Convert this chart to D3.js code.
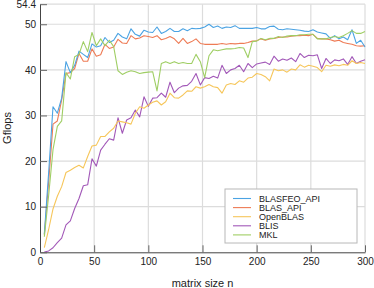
<!DOCTYPE html>
<html><head><meta charset="utf-8">
<script src="https://cdn.jsdelivr.net/npm/d3@7"></script>
<style>
html,body{margin:0;padding:0;background:#fff;}
svg{display:block;font-family:"Liberation Sans",Arial,Helvetica,sans-serif;}
</style></head>
<body><svg id="c" width="374" height="288"></svg>
<script>
const sizes = [4,8,12,16,20,24,28,32,36,40,44,48,52,56,60,64,68,72,76,80,84,88,92,96,100,
104,108,112,116,120,124,128,132,136,140,144,148,152,156,160,164,168,172,176,180,184,188,192,196,200,
204,208,212,216,220,224,228,232,236,240,244,248,252,256,260,264,268,272,276,280,284,288,292,296,300];

const blasfeoApi = [4.0,17.5,31.9,30.5,33.8,41.8,39.4,41.0,44.1,43.4,
42.7,45.7,45.0,45.3,47.1,46.0,46.5,48.0,47.2,46.8,
49.0,47.8,47.4,48.7,48.3,48.2,49.4,48.0,48.4,49.1,
48.4,48.4,49.0,48.6,49.1,49.0,49.1,49.4,50.0,49.3,
49.6,49.1,49.4,49.3,49.7,49.1,49.1,49.1,49.1,49.3,
49.0,49.0,49.5,49.6,48.9,48.8,49.0,48.9,48.8,48.7,
48.5,48.4,48.8,48.3,48.1,47.9,46.9,47.5,46.8,47.2,
46.6,48.8,45.8,46.5,45.0];

const blasApi = [3.8,15.5,28.1,28.8,33.4,39.2,39.4,40.3,43.6,41.9,
41.9,44.6,43.0,43.3,45.6,44.7,45.0,46.7,45.9,45.8,
47.5,46.8,47.0,47.5,47.3,47.1,47.5,46.6,46.9,47.3,
46.8,45.8,46.9,45.8,46.2,46.8,45.8,45.6,45.6,45.6,
45.6,45.8,45.6,45.8,45.7,45.8,45.8,46.0,46.3,46.4,
46.8,46.5,46.8,46.9,47.1,47.2,47.2,47.4,47.5,47.5,
47.6,47.5,47.8,46.9,46.8,46.8,46.6,46.3,46.5,46.0,
45.8,45.6,45.3,45.2,45.3];

const openBlas = [1.0,5.0,9.5,12.3,14.4,17.5,18.0,18.6,19.1,18.5,
21.0,23.3,23.5,25.4,25.4,26.4,27.2,28.8,28.6,28.4,
28.1,30.5,31.9,31.6,32.3,32.9,33.2,32.3,33.0,34.9,
33.9,33.8,34.5,35.4,35.3,36.3,36.0,36.3,36.8,36.3,
36.1,34.9,36.7,37.0,36.8,37.6,37.3,38.2,38.4,39.2,
39.0,38.5,37.6,40.2,39.8,40.0,39.5,40.2,40.0,41.1,
40.6,41.0,40.8,40.5,39.6,41.0,40.8,41.1,40.9,41.2,
41.0,42.0,41.4,41.6,41.4];

const blis = [0.05,0.3,1.0,2.1,3.1,6.0,6.9,9.6,11.8,14.6,
14.8,20.5,18.9,22.4,23.7,24.9,24.6,29.5,26.1,29.0,
29.5,31.2,29.7,34.1,32.0,33.8,33.9,34.9,34.0,37.3,
35.0,36.0,36.5,36.6,37.5,39.2,36.7,38.3,38.1,38.6,
38.2,41.0,39.2,40.0,40.3,41.0,39.6,41.4,40.5,41.3,
41.5,41.7,41.2,43.0,41.9,42.4,42.1,42.6,41.8,43.6,
42.7,43.2,43.1,43.3,40.3,42.5,41.4,42.2,42.0,42.4,
41.2,42.9,41.4,41.9,42.2];

const mkl = [3.4,12.5,22.5,27.6,28.8,39.4,38.0,42.9,43.4,46.2,
44.0,48.2,45.3,46.8,45.3,46.5,45.1,39.8,39.0,39.5,
39.8,39.6,39.2,39.4,39.5,39.6,35.4,41.4,41.8,41.4,
41.8,41.4,41.6,41.4,41.4,43.4,41.8,38.3,43.1,44.4,
44.2,44.4,44.6,44.6,44.7,44.9,44.8,42.7,46.2,46.3,
46.9,46.6,46.9,46.9,47.3,47.1,47.4,47.5,47.5,47.7,
47.7,47.8,47.8,46.8,46.8,46.8,47.1,47.3,47.1,47.5,
48.0,48.6,48.0,48.0,48.4];

const seriesNames = ["BLASFEO_API","BLAS_API","OpenBLAS","BLIS","MKL"];
const seriesValues = [blasfeoApi, blasApi, openBlas, blis, mkl];
const colors = ["#4ba3e3","#ee7b55","#f6c65a","#a258b8","#9fce64"];
const xTicks = [0,50,100,150,200,250,300];
const yTicks = [0,10,20,30,40,50,54.4];
const xLabel = "matrix size n";
const yLabel = "Gflops";

const svg = d3.select("#c");
const x = d3.scaleLinear().domain([0,300]).range([40,365]);
const y = d3.scaleLinear().domain([0,54.4]).range([252.3,4.2]);

// grid
const grid = svg.append("g").attr("stroke","#dcdcdc").attr("stroke-width",1.2);
xTicks.filter(d=>d>0).forEach(t=>{
  grid.append("line").attr("x1",x(t)).attr("x2",x(t)).attr("y1",y(0)).attr("y2",y(54.4));
});
yTicks.filter(d=>d>0).forEach(t=>{
  grid.append("line").attr("x1",x(0)).attr("x2",x(300)).attr("y1",y(t)).attr("y2",y(t));
});

// lines
const line = d3.line().x((d,i)=>x(sizes[i])).y(d=>y(d));
const order = [3,2,1,0,4];
order.forEach(k=>{
  svg.append("path").datum(seriesValues[k])
    .attr("fill","none").attr("stroke",colors[k]).attr("stroke-width",1.1)
    .attr("stroke-linejoin","round").attr("d",line);
});

// axes
const xAxis = d3.axisBottom(x).tickValues(xTicks).tickSizeInner(-7).tickSizeOuter(0).tickPadding(6);
const gx = svg.append("g").attr("transform",`translate(0,${y(0)})`).call(xAxis);
const yAxis = d3.axisLeft(y).tickValues(yTicks).tickSizeInner(-7).tickSizeOuter(0).tickPadding(4)
  .tickFormat(d=>d===54.4?"54.4":d3.format("d")(d));
const gy = svg.append("g").attr("transform",`translate(${x(0)},0)`).call(yAxis);
[gx,gy].forEach(g=>{
  g.select(".domain").attr("stroke","#444").attr("stroke-width",1);
  g.selectAll(".tick line").attr("stroke","#666").attr("stroke-width",1);
  g.selectAll(".tick text").attr("fill","#222").style("font-size","10px")
    .style("font-family",'"Liberation Sans",Arial,sans-serif');
});

svg.append("text").attr("x",202.5).attr("y",286.5).attr("text-anchor","middle")
  .style("font-size","11px").attr("fill","#222").text(xLabel);
svg.append("text").attr("transform","translate(11,128) rotate(-90)").attr("text-anchor","middle")
  .style("font-size","11px").attr("fill","#222").text(yLabel);

// legend
const lg = svg.append("g");
lg.append("rect").attr("x",225).attr("y",189).attr("width",132).attr("height",54)
  .attr("fill","#fff").attr("stroke","#b8b8b8").attr("stroke-width",1);
seriesNames.forEach((name,i)=>{
  const yy = 198.5 + i*9.1;
  lg.append("line").attr("x1",233).attr("x2",251).attr("y1",yy).attr("y2",yy)
    .attr("stroke",colors[i]).attr("stroke-width",1.1);
  lg.append("text").attr("x",259).attr("y",yy+3.2).style("font-size","9px")
    .attr("fill","#222").text(name);
});
</script></body></html>
